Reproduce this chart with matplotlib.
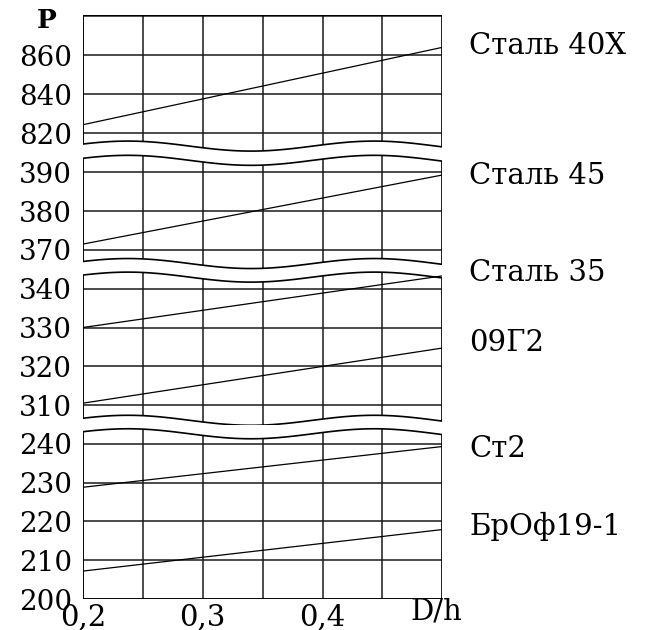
import numpy as np
import matplotlib
matplotlib.use("Agg")
import matplotlib.pyplot as plt
from matplotlib.patches import Polygon

plt.rcParams['font.family'] = ['DejaVu Serif']

# data
d_over_h = [0.2, 0.5]
x_grid = [0.2, 0.25, 0.3, 0.35, 0.4, 0.45, 0.5]
x_ticks = [0.2, 0.3, 0.4]
x_tick_labels = ['0,2', '0,3', '0,4']

materials = ['Сталь 40X', 'Сталь 45', 'Сталь 35', '09Г2', 'Ст2', 'БрОф19-1']
p_start = [824.4, 371.5, 330.0, 310.5, 228.8, 207.2]
p_end = [863.9, 389.3, 343.3, 324.7, 239.3, 217.9]
material_panel = [0, 1, 2, 2, 3, 3]

panel_ticks = [[820, 840, 860], [370, 380, 390], [310, 320, 330, 340],
               [200, 210, 220, 230, 240]]
# edges of each panel at D/h = 0.2
panel_low = [814.5, 367.0, 306.6, 200]
panel_high = [880, 393.6, 343.5, 243.1]

# layout in pixels: anchor value, anchor row, px per unit, top row, bottom row
W, H = 655, 630
layout = [(860, 55.0, 1.958, 15.0, 154.0),
          (390, 172.3, 3.88, 150.0, 270.0),
          (340, 288.7, 3.88, 266.0, 425.0),
          (200, 599.0, 3.88, 425.0, 599.0)]
ax_left, ax_right = 83.0, 442.3

fig = plt.figure(figsize=(W / 100, H / 100), dpi=100)

xs = np.linspace(0.2, 0.5, 200)


def wave_px(x):
    # break mark shape, in pixels (downwards)
    return 2 - 5 * np.cos(2 * np.pi * (x - 0.2375) / 0.2058)


axes = []
for i, (v0, p0, s, pt, pb) in enumerate(layout):
    ax = fig.add_axes([ax_left / W, (H - pb) / H, (ax_right - ax_left) / W, (pb - pt) / H])
    ax.set_xlim(0.2, 0.5)
    ax.set_ylim(v0 - (pb - p0) / s, v0 + (p0 - pt) / s)
    ax.patch.set_visible(False)
    for sp in ax.spines.values():
        sp.set_visible(False)

    if i > 0:
        top = panel_high[i] - wave_px(xs) / s
    else:
        top = np.full_like(xs, panel_high[i])
    if i < 3:
        bottom = panel_low[i] - wave_px(xs) / s
    else:
        bottom = np.full_like(xs, panel_low[i])
    verts = np.vstack([np.column_stack([xs, bottom]),
                       np.column_stack([xs[::-1], top[::-1]])])
    frame = Polygon(verts, closed=True, fill=False, edgecolor='black', lw=1.2, zorder=3)
    ax.add_patch(frame)

    ylo, yhi = ax.get_ylim()
    vl = ax.vlines(x_grid, ylo, yhi, colors='#1a1a1a', lw=1.1, zorder=1)
    vl.set_clip_path(frame)
    hl = ax.hlines(panel_ticks[i], 0.2, 0.5, colors='#1a1a1a', lw=1.1, zorder=1)
    hl.set_clip_path(frame)

    ax.set_yticks(panel_ticks[i])
    ax.tick_params(axis='y', length=0, pad=8, labelsize=20)
    if i == 3:
        ax.set_xticks(x_ticks)
        ax.set_xticklabels(x_tick_labels)
        ax.tick_params(axis='x', length=0, pad=3, labelsize=21)
        for lab in ax.get_xticklabels():
            lab.set_x(lab.get_position()[0])
    else:
        ax.set_xticks([])
    axes.append(ax)

label_dy = [1, -1, 2, 4, -2, 2]
for name, y0, y1, k, dy in zip(materials, p_start, p_end, material_panel, label_dy):
    ax = axes[k]
    ax.plot(d_over_h, [y0, y1], color='black', lw=0.9, zorder=2)
    ax.annotate(name, xy=(0.5, y1), xytext=(19.5, dy), textcoords='offset points',
                ha='left', va='center', fontsize=21, annotation_clip=False)

fig.text(47 / W, 1 - 20 / H, 'P', ha='center', va='center', fontsize=19, fontweight='bold')
fig.text(436 / W, 1 - 611 / H, 'D/h', ha='center', va='center', fontsize=21)

fig.savefig('out.png', dpi=100)
